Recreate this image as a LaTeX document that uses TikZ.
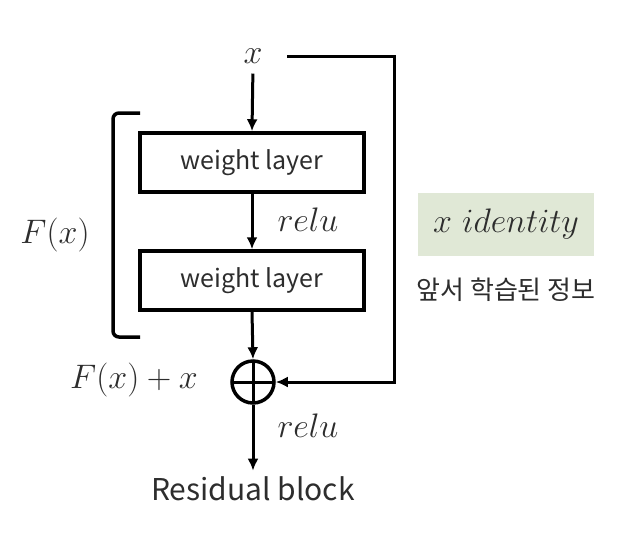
\RequirePackage{fix-cm}
\documentclass[tikz,border=0pt]{standalone}
\usepackage{fontspec}
\newfontfamily\kofont{Noto Sans CJK KR}
\usetikzlibrary{arrows.meta}
\definecolor{idgreen}{RGB}{224,232,214}
\definecolor{txtgray}{RGB}{45,45,45}

\begin{document}
\begin{tikzpicture}[x=1pt,y=-1pt,
    wbox/.style={draw,line width=3.5pt,minimum width=224pt,minimum height=59pt,
                 text=txtgray,font=\kofont\fontsize{25}{28}\selectfont},
    conn/.style={line width=3pt,-{Latex[length=12pt,width=11pt]}},
    mlabel/.style={text=txtgray,font=\fontsize{34}{38}\selectfont}]
  \useasboundingbox (0,0) rectangle (617,541);
  % main path
  \node[mlabel,inner sep=2pt] (xin) at (253,56) {$x$};
  \node[wbox] (wl1) at (252,162.5) {weight layer};
  \node[wbox] (wl2) at (252,280.5) {weight layer};
  \node[circle,draw,line width=3.5pt,minimum size=42pt,
        path picture={\draw[line width=3pt]
          (path picture bounding box.north) -- (path picture bounding box.south)
          (path picture bounding box.west) -- (path picture bounding box.east);}]
        (addc) at (253,382) {};
  \node[text=txtgray,font=\kofont\fontsize{30}{34}\selectfont,inner sep=2pt] (out) at (253,489) {Residual block};
  \draw[conn,shorten <=8pt] (xin.south) -- (wl1.north);
  \draw[conn] (wl1.south) -- (wl2.north);
  \draw[conn] (wl2.south) -- (addc.north);
  \draw[conn,shorten >=4pt] (addc.south) -- (out.north);
  % identity shortcut
  \coordinate (skipstart) at (287,56);
  \coordinate (skipturn) at (394,56);
  \draw[conn] (skipstart) -- (skipturn) |- (addc.east);
  % bracket for F(x)
  \draw[line width=3.5pt,rounded corners=6pt] (140,113) -- (113,113) -- (113,337) -- (140,337);
  % labels
  \node[mlabel] (relua) at (308,220) {$relu$};
  \node[mlabel] (relub) at (308,426) {$relu$};
  \node[mlabel] (fx) at (55,235) {$F(x)$};
  \node[mlabel] (fxx) at (134,380) {$F(x)+x$};
  \node[mlabel,fill=idgreen,minimum width=176pt,minimum height=63pt] (idbox) at (506,224) {$x\ identity$};
  \node[text=txtgray,font=\kofont\fontsize{26}{30}\selectfont] (kor) at (506,290) {앞서 학습된 정보};
\end{tikzpicture}
\end{document}
